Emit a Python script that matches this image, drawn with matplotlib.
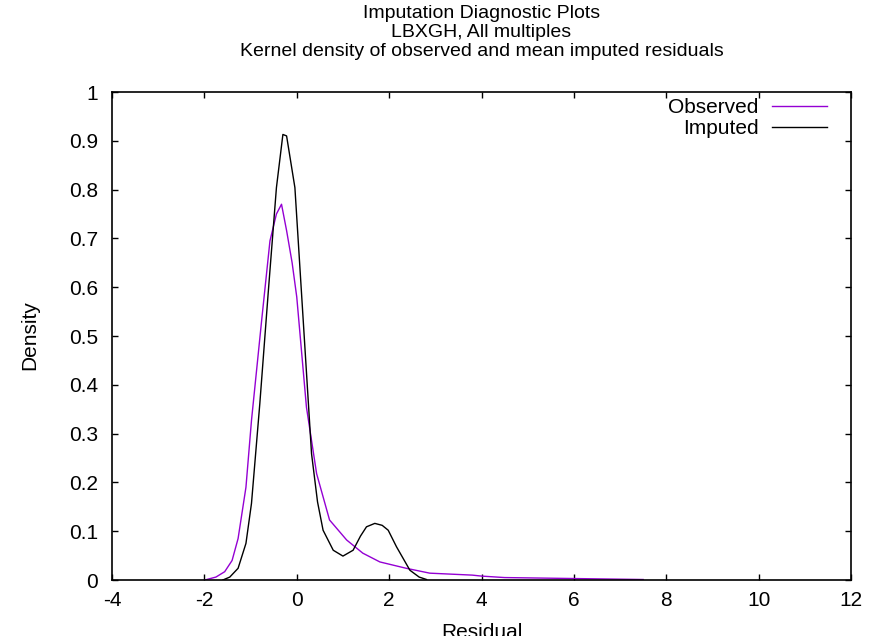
import matplotlib.pyplot as plt

# Kernel density curves
obs_x = [-1.99, -1.75, -1.56, -1.4, -1.27, -1.1, -0.98, -0.76, -0.58, -0.44, -0.33, -0.22,
         -0.1, 0.0, 0.21, 0.43, 0.71, 1.08, 1.43, 1.8, 2.37, 2.88, 3.8, 4.0, 4.5, 6.0, 7.5]
obs_y = [0.0, 0.006, 0.017, 0.04, 0.085, 0.19, 0.327, 0.532, 0.695, 0.75, 0.77, 0.716,
         0.65, 0.58, 0.354, 0.218, 0.123, 0.082, 0.055, 0.037, 0.024, 0.014, 0.01, 0.008,
         0.005, 0.003, 0.001]

imp_x = [-1.6, -1.45, -1.27, -1.1, -0.98, -0.80, -0.62, -0.44, -0.30, -0.22, -0.04, 0.14,
         0.32, 0.45, 0.57, 0.79, 1.0, 1.22, 1.38, 1.51, 1.69, 1.85, 1.98, 2.16, 2.45, 2.65,
         2.81]
imp_y = [0.0, 0.006, 0.024, 0.075, 0.157, 0.361, 0.586, 0.804, 0.913, 0.91, 0.804, 0.532,
         0.259, 0.16, 0.102, 0.061, 0.049, 0.061, 0.09, 0.109, 0.116, 0.112, 0.102, 0.068,
         0.02, 0.006, 0.001]

x_ticks = [-4, -2, 0, 2, 4, 6, 8, 10, 12]
y_ticks = [0, 0.1, 0.2, 0.3, 0.4, 0.5, 0.6, 0.7, 0.8, 0.9, 1]
y_labels = ["0", "0.1", "0.2", "0.3", "0.4", "0.5", "0.6", "0.7", "0.8", "0.9", "1"]

plt.rcParams["font.family"] = ["Liberation Sans", "DejaVu Sans"]

W, H = 871, 636
fig = plt.figure(figsize=(W / 100, H / 100), dpi=100)
ax = fig.add_axes([112 / W, 1 - 580 / H, 739 / W, 488 / H])

ax.plot(obs_x, obs_y, color="#9400d3", lw=1.0, label="Observed")
ax.plot(imp_x, imp_y, color="black", lw=1.0, label="Imputed")

ax.set_xlim(-4, 12)
ax.set_ylim(0, 1)
ax.set_xticks(x_ticks)
ax.set_xticklabels([str(t) for t in x_ticks])
ax.set_yticks(y_ticks)
ax.set_yticklabels(y_labels)
ax.tick_params(direction="in", length=4, width=1, top=True, right=True, labelsize=15)
ax.tick_params(axis="x", pad=8)
ax.tick_params(axis="y", pad=10)
for s in ax.spines.values():
    s.set_linewidth(1.2)

# gnuplot style key: text right aligned, sample line on the right
leg = ax.legend(loc="upper right", frameon=False, fontsize=15, markerfirst=False,
                handlelength=2.65, handletextpad=0.65, labelspacing=0.1,
                borderpad=0, borderaxespad=0,
                bbox_to_anchor=(827 / W, 1 - 98 / H), bbox_transform=fig.transFigure)
for t in leg.get_texts():
    t.set_ha("right")

cx = 481.5 / W
fig.text(cx, 1 - 14 / H, "Imputation Diagnostic Plots", ha="center", va="center", fontsize=14)
fig.text(cx, 1 - 32.5 / H, "LBXGH, All multiples", ha="center", va="center", fontsize=14)
fig.text(cx, 1 - 51 / H, "Kernel density of observed and mean imputed residuals",
         ha="center", va="center", fontsize=14)
fig.text(30 / W, 1 - 335 / H, "Density", rotation=90, ha="center", va="center", fontsize=15)
fig.text(cx, 1 - 638 / H, "Residual", ha="center", va="baseline", fontsize=15)

fig.savefig("out.png", dpi=100)
